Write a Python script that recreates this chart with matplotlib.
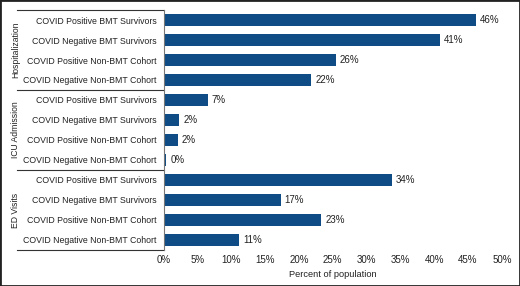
import matplotlib
matplotlib.use('Agg')
import matplotlib.pyplot as plt
import matplotlib.transforms as mtransforms
from matplotlib.patches import Rectangle

# ---------------------------------- DATA ---------------------------------- #
categories = ['COVID Positive BMT Survivors', 'COVID Negative BMT Survivors',
              'COVID Positive Non-BMT Cohort', 'COVID Negative Non-BMT Cohort'] * 3
groups = ['Hospitalization', 'ICU Admission', 'ED Visits']
values = [46.2, 40.8, 25.4, 21.8,
          6.5, 2.3, 2.1, 0.35,
          33.7, 17.3, 23.3, 11.1]
value_labels = ['46%', '41%', '26%', '22%',
                '7%', '2%', '2%', '0%',
                '34%', '17%', '23%', '11%']
xticks = [0, 5, 10, 15, 20, 25, 30, 35, 40, 45, 50]

BAR_COLOR = '#0f4c86'
TXT = '#222222'
plt.rcParams['font.family'] = ['Liberation Sans', 'DejaVu Sans']

# --------------------------------- FIGURE --------------------------------- #
fig = plt.figure(figsize=(5.2, 2.86), dpi=100)
ax = fig.add_axes([0.315, 0.126, 0.65, 0.839])

ypos = list(range(len(values)))
ax.barh(ypos, values, height=0.6, color=BAR_COLOR)
ax.set_ylim(len(values) - 0.5, -0.5)
ax.set_xlim(0, 50)

for y, v, lab in zip(ypos, values, value_labels):
    ax.text(v + 0.6, y, lab, va='center', ha='left', fontsize=7, color=TXT)

ax.set_yticks(ypos)
ax.set_yticklabels(categories, fontsize=6.3, color=TXT)
ax.set_xticks(xticks)
ax.set_xticklabels([f'{t}%' for t in xticks], fontsize=7, color=TXT)
ax.tick_params(axis='both', length=0)
ax.tick_params(axis='y', pad=5)
ax.tick_params(axis='x', pad=3.5)
ax.set_xlabel('Percent of population', fontsize=6.7, color=TXT, labelpad=4)

for s in ['top', 'right', 'bottom']:
    ax.spines[s].set_visible(False)
ax.spines['left'].set_color('#777777')
ax.spines['left'].set_linewidth(0.8)

# group separators and labels
trans = mtransforms.blended_transform_factory(ax.transAxes, ax.transData)
line_x0 = -0.435
for yb in [-0.5, 3.5, 7.5, 11.5]:
    ax.plot([line_x0, 0], [yb, yb], transform=trans, color='#333333',
            lw=0.8, clip_on=False)
for i, g in enumerate(groups):
    ax.text(-0.438, 4 * i + 1.5, g, transform=trans, rotation=90,
            ha='center', va='center', fontsize=6.2, color=TXT)

# dark frame round the picture
fig.patches.append(Rectangle((0, 0), 1, 1, transform=fig.transFigure,
                             fill=False, edgecolor='#222222', lw=2))

fig.savefig('out.png', dpi=100)
